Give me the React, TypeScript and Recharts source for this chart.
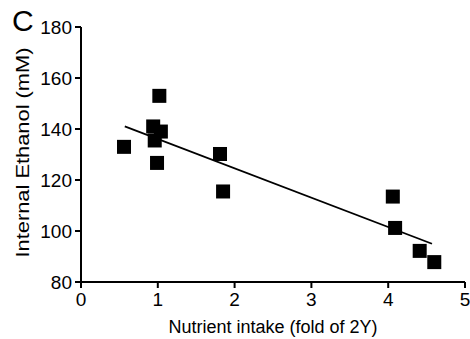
import { ScatterChart, Scatter, XAxis, YAxis, ReferenceLine, Label } from 'recharts'

// measured points (nutrient intake fold, internal ethanol mM)
const intake = [0.56, 1.02, 0.94, 1.04, 0.96, 0.99, 1.81, 1.85, 4.06, 4.09, 4.41, 4.6]
const ethanol = [133, 153, 141, 139, 135.5, 126.7, 130.2, 115.5, 113.5, 101.2, 92.2, 87.8]

// regression line endpoints
const fitX = [0.57, 4.57]
const fitY = [141, 95]

const xTicks = [0, 1, 2, 3, 4, 5]
const yTicks = [80, 100, 120, 140, 160, 180]

const points = intake.map((x, i) => ({ x, y: ethanol[i] }))

const font = 'Arial, "Liberation Sans", sans-serif'

function Square(props: any) {
  const { cx, cy } = props
  if (cx == null || cy == null) return null
  const s = 14
  return <rect x={cx - s / 2} y={cy - s / 2} width={s} height={s} fill="#000" />
}

function YTitle(props: any) {
  const vb = props.viewBox || { x: 0, y: 0, width: 0, height: 0 }
  const x = vb.x + 22
  const y = vb.y + vb.height / 2 - 2
  return (
    <text
      x={x}
      y={y}
      transform={`rotate(-90 ${x} ${y})`}
      textAnchor="middle"
      dominantBaseline="central"
      textLength={210}
      lengthAdjust="spacingAndGlyphs"
      style={{ fontSize: 19, fill: '#000', fontFamily: font }}
    >
      Internal Ethanol (mM)
    </text>
  )
}

export default function App() {
  return (
    <div style={{ position: 'absolute', left: 0, top: 0, width: 470, height: 339, background: '#fff', fontFamily: font }}>
      <div style={{ position: 'absolute', left: 12, top: 5, fontSize: 30, lineHeight: '32px', color: '#000' }}>C</div>
      <ScatterChart width={470} height={339} margin={{ top: 27, right: 5, bottom: 0, left: 0 }}>
        <XAxis
          type="number"
          dataKey="x"
          domain={[0, 5]}
          ticks={xTicks}
          tick={{ fontSize: 19, fill: '#000', fontFamily: font }}
          stroke="#000"
          strokeWidth={2}
          tickSize={6}
          tickMargin={5}
          height={57}
        >
          <Label
            value="Nutrient intake (fold of 2Y)"
            position="insideBottom"
            offset={6}
            style={{ fontSize: 18, fill: '#000', fontFamily: font }}
          />
        </XAxis>
        <YAxis
          type="number"
          dataKey="y"
          domain={[80, 180]}
          ticks={yTicks}
          tick={{ fontSize: 19, fill: '#000', fontFamily: font }}
          stroke="#000"
          strokeWidth={2}
          tickSize={6}
          tickMargin={3}
          width={81}
        >
          <Label content={<YTitle />} />
        </YAxis>
        <ReferenceLine
          segment={[
            { x: fitX[0], y: fitY[0] },
            { x: fitX[1], y: fitY[1] },
          ]}
          stroke="#000"
          strokeWidth={1.8}
        />
        <Scatter data={points} fill="#000" shape={<Square />} isAnimationActive={false} />
      </ScatterChart>
    </div>
  )
}
